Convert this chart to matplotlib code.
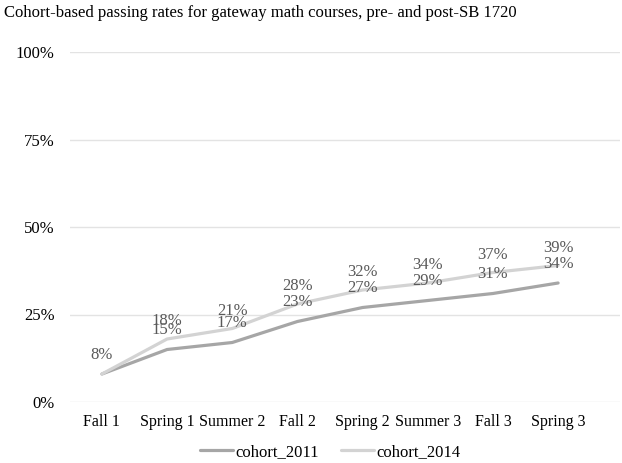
import matplotlib
matplotlib.use("Agg")
import matplotlib.pyplot as plt
from matplotlib.ticker import FuncFormatter

terms = ["Fall 1", "Spring 1", "Summer 2", "Fall 2", "Spring 2", "Summer 3", "Fall 3", "Spring 3"]
cohort_2011 = [0.08, 0.15, 0.17, 0.23, 0.27, 0.29, 0.31, 0.34]
cohort_2014 = [0.08, 0.18, 0.21, 0.28, 0.32, 0.34, 0.37, 0.39]
yticks = [0, 0.25, 0.5, 0.75, 1.0]

plt.rcParams["font.family"] = ["Liberation Serif", "DejaVu Serif"]

fig = plt.figure(figsize=(6.22, 4.63), dpi=100)
ax = fig.add_axes([70 / 622, 1 - 402 / 463, 550 / 622, 350 / 463])

x = list(range(len(terms)))
c11, c14 = "#a6a6a6", "#d3d3d3"
ax.plot(x, cohort_2011, color=c11, lw=2.3, label="cohort_2011", solid_capstyle="round")
ax.plot(x, cohort_2014, color=c14, lw=2.3, label="cohort_2014", solid_capstyle="round")

# data labels sit above each point, like the spreadsheet default
for xi, v in zip(x, cohort_2011):
    ax.annotate(f"{v:.0%}", (xi, v), xytext=(0, 8), textcoords="offset points",
                ha="center", va="bottom", fontsize=12, color="#595959")
for xi, v in zip(x, cohort_2014):
    if xi == 0:
        continue
    ax.annotate(f"{v:.0%}", (xi, v), xytext=(0, 7), textcoords="offset points",
                ha="center", va="bottom", fontsize=12, color="#595959")

ax.set_xlim(-0.49, 7.95)
ax.set_ylim(0, 1)
ax.set_yticks(yticks)
ax.yaxis.set_major_formatter(FuncFormatter(lambda v, p: f"{v:.0%}"))
ax.set_xticks(x)
ax.set_xticklabels(terms)
ax.tick_params(length=0, labelsize=12, labelcolor="#000000")
ax.tick_params(axis="y", pad=11)
ax.tick_params(axis="x", pad=9, labelsize=11.5)
ax.grid(axis="y", color="#e3e3e3", lw=1)
ax.set_axisbelow(True)
for s in ax.spines.values():
    s.set_visible(False)

fig.text(4 / 622, 1 - 13 / 463, "Cohort-based passing rates for gateway math courses, pre- and post-SB 1720",
         fontsize=12, va="center", ha="left")

fig.legend(loc="center", bbox_to_anchor=(330 / 622, 1 - 452 / 463), ncol=2, frameon=False,
           fontsize=12, handlelength=2.0, handletextpad=0.15, columnspacing=1.3)

fig.savefig("out.png", dpi=100)
